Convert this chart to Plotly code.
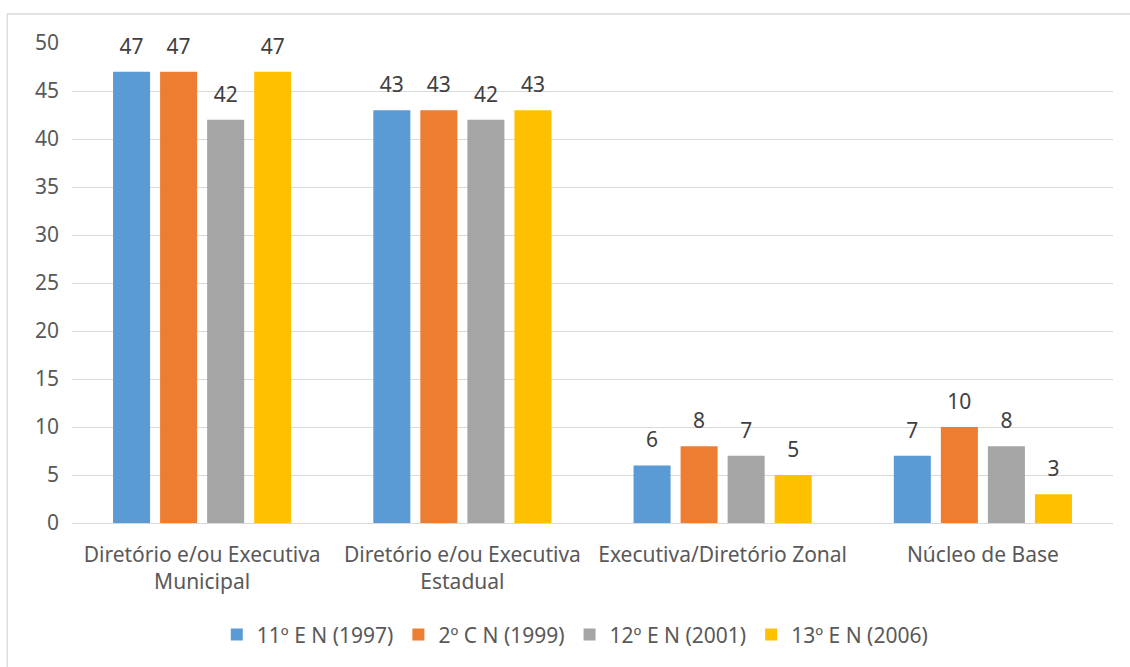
import plotly.graph_objects as go

categories = ["Diretório e/ou Executiva<br>Municipal",
              "Diretório e/ou Executiva<br>Estadual",
              "Executiva/Diretório Zonal",
              "Núcleo de Base"]
series_names = ["11º E N (1997)", "2º C N (1999)", "12º E N (2001)", "13º E N (2006)"]
values_1997 = [47, 43, 6, 7]
values_1999 = [47, 43, 8, 10]
values_2001 = [42, 42, 7, 8]
values_2006 = [47, 43, 5, 3]
y_ticks = [0, 5, 10, 15, 20, 25, 30, 35, 40, 45, 50]

colors = ["#5B9BD5", "#ED7D31", "#A5A5A5", "#FFC000"]
all_values = [values_1997, values_1999, values_2001, values_2006]

FONT = "Noto Sans"
FS = 21
fig = go.Figure()
for i, (name, vals) in enumerate(zip(series_names, all_values)):
    fig.add_trace(go.Bar(
        x=categories, y=vals, name=name, marker_color=colors[i],
        marker_line_width=0, offsetgroup=f"g{i}",
    ))
for i, (name, vals) in enumerate(zip(series_names, all_values)):
    fig.add_trace(go.Scatter(
        x=categories, y=vals, mode="markers+text", text=[str(v) for v in vals],
        textposition="top center", marker=dict(size=19, opacity=0),
        textfont=dict(family=FONT, size=FS, color="#404040"),
        showlegend=False, hoverinfo="skip", offsetgroup=f"g{i}", cliponaxis=False,
    ))

fig.update_layout(
    width=1130, height=667,
    margin=dict(l=72, r=17, t=43, b=144),
    paper_bgcolor="white", plot_bgcolor="white",
    barmode="group", bargap=0.277, bargroupgap=0.213,
    scattermode="group", scattergap=0.277,
    font=dict(family=FONT, size=FS, color="#595959"),
    showlegend=True,
    legend=dict(orientation="h", x=0.483, xanchor="center", y=-0.233, yanchor="middle",
                font=dict(family=FONT, size=FS, color="#595959"), traceorder="normal",
                itemwidth=30),
    xaxis=dict(showgrid=False, showline=False, ticks="", ticklabelstandoff=17,
               tickfont=dict(size=FS, color="#595959")),
    yaxis=dict(range=[0, 50], tickvals=y_ticks, showgrid=True, gridcolor="#D9D9D9", gridwidth=1.3,
               zeroline=True, zerolinecolor="#D9D9D9", zerolinewidth=1.3,
               ticks="", ticklabelstandoff=12, tickfont=dict(size=FS, color="#595959")),
    shapes=[dict(type="rect", xref="paper", yref="paper", x0=-0.0622, x1=1.1, y0=-0.5, y1=1.0604,
                 line=dict(color="#D9D9D9", width=1.3), fillcolor="rgba(0,0,0,0)", layer="below")],
)

fig.write_html("out.html")
